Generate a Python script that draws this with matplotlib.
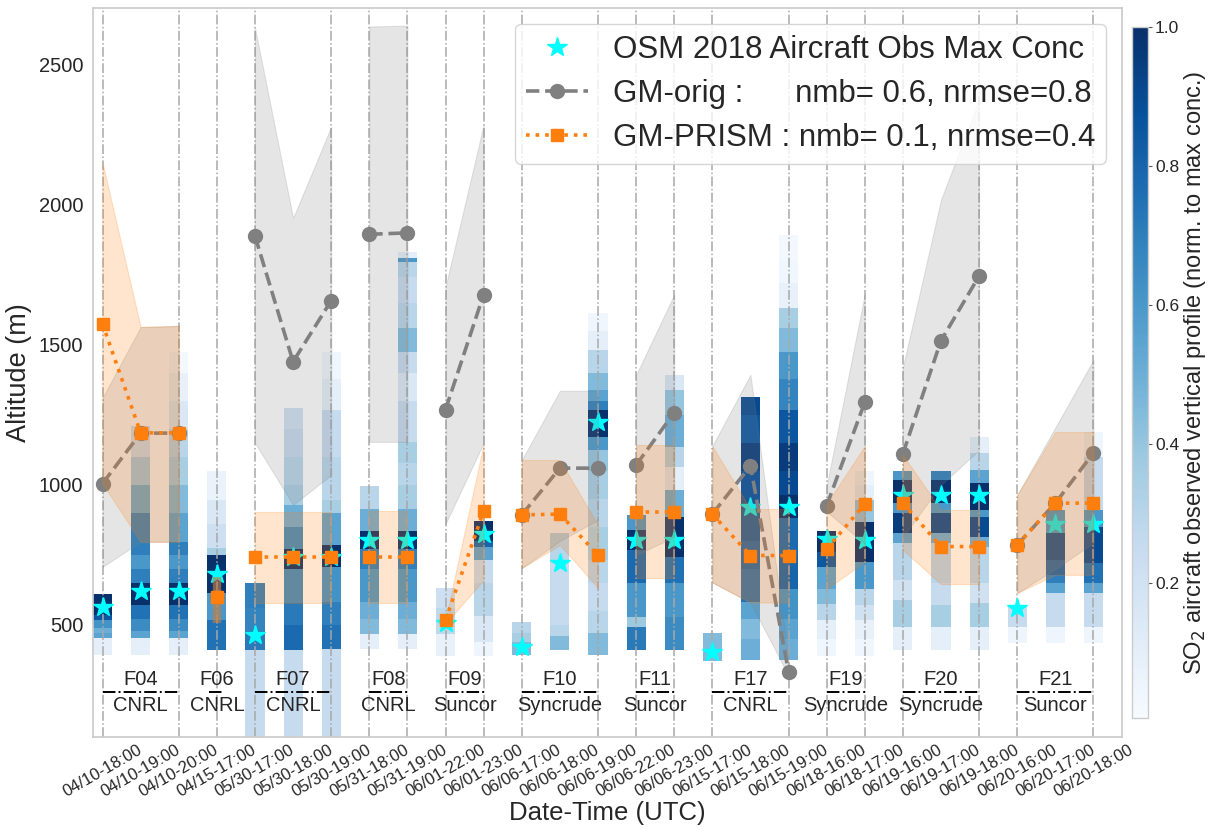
import numpy as np
import matplotlib
matplotlib.use("Agg")
import matplotlib.pyplot as plt
from matplotlib.lines import Line2D
from matplotlib.colors import Normalize
from matplotlib.cm import ScalarMappable

plt.rcParams['font.family'] = ['Liberation Sans', 'DejaVu Sans']
plt.rcParams['text.color'] = '#262626'
plt.rcParams['axes.labelcolor'] = '#262626'
plt.rcParams['xtick.color'] = '#262626'
plt.rcParams['ytick.color'] = '#262626'

# ---------------- data ----------------
time_labels = ['04/10-18:00', '04/10-19:00', '04/10-20:00', '04/15-17:00', '05/30-17:00',
               '05/30-18:00', '05/30-19:00', '05/31-18:00', '05/31-19:00', '06/01-22:00',
               '06/01-23:00', '06/06-17:00', '06/06-18:00', '06/06-19:00', '06/06-22:00',
               '06/06-23:00', '06/15-17:00', '06/15-18:00', '06/15-19:00', '06/18-16:00',
               '06/18-17:00', '06/19-16:00', '06/19-17:00', '06/19-18:00', '06/20-16:00',
               '06/20-17:00', '06/20-18:00']

flight_names = ['F04', 'F06', 'F07', 'F08', 'F09', 'F10', 'F11', 'F17', 'F19', 'F20', 'F21']
flight_ops = ['CNRL', 'CNRL', 'CNRL', 'CNRL', 'Suncor', 'Syncrude', 'Suncor', 'CNRL',
              'Syncrude', 'Syncrude', 'Suncor']
flight_start = [0, 3, 4, 7, 9, 11, 14, 16, 19, 21, 24]
flight_end = [2, 3, 6, 8, 10, 13, 15, 18, 20, 23, 26]

obs_max = [565, 622, 622, 682, 464, 742, 742, 803, 803, 508, 825, 423, 722, 1223, 803, 803,
           405, 923, 923, 807, 803, 964, 964, 964, 562, 861, 861]

gm_orig = [1005, 1185, 1185, 600, 1889, 1440, 1658, 1895, 1900, 1269, 1680, 893, 1060, 1060,
           1071, 1258, 896, 1068, 333, 926, 1295, 1111, 1515, 1746, 786, 935, 1114]
gm_orig_lo = [708, 797, 797, 507, 1150, 929, 1036, 1154, 1154, 861, 1150, 703, 800, 875,
              750, 814, 652, 580, 320, 905, 790, 814, 1000, 1125, 614, 700, 793]
gm_orig_hi = [1311, 1564, 1568, 671, 2632, 1953, 2279, 2637, 2640, 1707, 2286, 1089, 1336, 1336,
              1393, 1679, 1139, 1393, 380, 996, 1680, 1420, 2018, 2375, 964, 1205, 1446]

gm_prism = [1575, 1186, 1186, 601, 742, 742, 742, 743, 743, 518, 907, 893, 896, 750, 905, 905,
            896, 748, 748, 771, 932, 935, 780, 780, 786, 935, 935]
gm_prism_lo = [1005, 797, 797, 507, 578, 578, 578, 578, 578, 505, 661, 703, 786, 632, 668, 668,
               652, 580, 580, 629, 725, 768, 646, 646, 614, 679, 679]
gm_prism_hi = [2150, 1564, 1568, 671, 905, 905, 905, 907, 907, 520, 1146, 1089, 1089, 857, 1143,
               1143, 1139, 914, 914, 932, 1139, 1107, 911, 911, 964, 1189, 1189]

# observed SO2 vertical profiles (bin edges in m, normalized concentration per bin)
prof_z = [
    [393, 454, 470, 490, 518, 536, 611],
    [393, 454, 480, 520, 571, 650, 700, 750, 796, 900, 1000, 1100, 1211],
    [393, 454, 480, 520, 571, 650, 700, 750, 796, 900, 1000, 1100, 1200, 1300, 1400, 1475],
    [411, 518, 614, 750, 775, 860, 946, 1050],
    [100, 411, 480, 560, 650],
    [100, 411, 500, 580, 700, 770, 850, 930, 1000, 1100, 1200, 1275],
    [100, 414, 500, 582, 707, 786, 900, 946, 1100, 1266, 1380, 1473],
    [414, 468, 520, 582, 700, 770, 836, 914, 996],
    [414, 468, 520, 582, 700, 770, 836, 914, 1000, 1080, 1154, 1300, 1400, 1475, 1560, 1650,
     1743, 1795, 1810, 1832],
    [389, 468, 560, 632],
    [389, 440, 532, 650, 732, 780, 800, 871],
    [393, 440, 470, 511],
    [411, 460, 500, 560, 650, 720, 829],
    [393, 470, 550, 650, 732, 850, 950, 1050, 1125, 1171, 1268, 1300, 1339, 1400, 1482, 1550, 1614],
    [411, 494, 530, 649, 768, 839, 893],
    [411, 530, 649, 744, 887, 982, 1065, 1137, 1250, 1339, 1393],
    [373, 471],
    [375, 450, 520, 582, 700, 800, 914, 946, 1050, 1150, 1250, 1314],
    [375, 450, 520, 629, 750, 882, 964, 1050, 1150, 1268, 1380, 1475, 1560, 1632, 1720, 1800, 1893],
    [389, 450, 518, 575, 629, 707, 760, 836],
    [389, 450, 518, 570, 629, 725, 868, 946, 1000, 1050],
    [411, 494, 589, 661, 792, 827, 899, 935, 1018, 1051],
    [411, 494, 570, 650, 792, 827, 899, 935, 1018, 1051],
    [411, 494, 577, 649, 780, 815, 887, 911, 1006, 1054, 1113, 1170],
    [436, 493, 571],
    [435, 494, 613, 649, 679, 732, 827, 911],
    [435, 494, 613, 649, 720, 851, 911, 1101, 1190],
]
prof_c = [
    [0.1, 0.55, 0.5, 0.62, 0.85, 1.0],
    [0.1, 0.55, 0.65, 0.75, 1.0, 0.7, 0.6, 0.7, 0.7, 0.5, 0.35, 0.2],
    [0.1, 0.55, 0.65, 0.75, 1.0, 0.7, 0.6, 0.7, 0.55, 0.45, 0.35, 0.3, 0.15, 0.08, 0.03],
    [0.75, 0.6, 1.0, 0.35, 0.22, 0.15, 0.07],
    [0.25, 0.72, 0.68, 0.7],
    [0.25, 0.78, 0.72, 0.65, 1.0, 0.65, 0.5, 0.35, 0.3, 0.25, 0.2],
    [0.25, 0.75, 0.7, 0.62, 1.0, 0.55, 0.35, 0.3, 0.25, 0.1, 0.04],
    [0.1, 0.45, 0.5, 0.6, 0.7, 1.0, 0.5, 0.3],
    [0.1, 0.45, 0.5, 0.6, 0.7, 1.0, 0.5, 0.35, 0.3, 0.35, 0.25, 0.15, 0.25, 0.45, 0.3, 0.25,
     0.3, 0.6, 0.1],
    [0.08, 0.28, 0.22],
    [0.05, 0.15, 0.3, 0.25, 0.55, 0.8, 1.0],
    [0.45, 0.35, 0.3],
    [0.45, 0.3, 0.25, 0.25, 0.25, 0.3],
    [0.45, 0.3, 0.25, 0.3, 0.35, 0.3, 0.35, 0.4, 0.6, 1.0, 0.7, 0.55, 0.45, 0.3, 0.1, 0.04],
    [0.72, 0.38, 0.6, 0.78, 1.0, 0.6],
    [0.65, 0.6, 0.75, 1.0, 0.5, 0.1, 0.3, 0.5, 0.4, 0.15],
    [0.45],
    [0.5, 0.45, 0.55, 0.75, 0.8, 0.85, 0.9, 0.88, 0.95, 0.85, 0.9],
    [0.5, 0.55, 0.62, 0.8, 0.78, 1.0, 0.9, 0.95, 0.85, 0.68, 0.6, 0.45, 0.35, 0.08, 0.04, 0.03],
    [0.04, 0.1, 0.3, 0.45, 0.55, 0.85, 1.0],
    [0.04, 0.08, 0.2, 0.3, 0.6, 1.0, 0.4, 0.1, 0.05],
    [0.1, 0.35, 0.2, 0.3, 0.55, 0.95, 0.6, 1.0, 0.6],
    [0.1, 0.35, 0.25, 0.3, 0.5, 0.9, 0.6, 1.0, 0.7],
    [0.1, 0.35, 0.2, 0.3, 0.5, 0.9, 0.6, 1.0, 0.55, 0.3, 0.1],
    [0.05, 0.25],
    [0.05, 0.25, 0.55, 0.7, 0.8, 0.9, 0.6],
    [0.05, 0.25, 0.55, 0.75, 0.9, 0.6, 0.25, 0.05],
]

legend_labels = ['OSM 2018 Aircraft Obs Max Conc',
                 'GM-orig :      nmb= 0.6, nrmse=0.8',
                 'GM-PRISM : nmb= 0.1, nrmse=0.4']

# ---------------- figure ----------------
W, H = 1210, 830
fig = plt.figure(figsize=(W / 100, H / 100), dpi=100)
ax = fig.add_axes([93 / W, 1 - 737 / H, (1122 - 93) / W, (737 - 8) / H])
cax = fig.add_axes([1132 / W, 1 - 718 / H, 16 / W, (718 - 27) / H])

cmap = plt.get_cmap('Blues')
norm = Normalize(vmin=0.005, vmax=1.0)

x = np.arange(len(time_labels))

# profiles
for i in range(len(prof_z)):
    z = np.array(prof_z[i], dtype=float)
    c = np.array(prof_c[i], dtype=float)[:, None]
    ax.pcolormesh([i - 0.25, i + 0.25], z, c, cmap=cmap, norm=norm, shading='flat',
                  zorder=1, edgecolors='none')

# vertical flight boundary lines
for s, e in zip(flight_start, flight_end):
    for xv in sorted(set([s, e])):
        ax.axvline(xv, color='#a8a8a8', ls='-.', lw=1.1, zorder=1.5)

# stars
ax.plot(x, obs_max, ls='none', marker='*', color='cyan', ms=15, zorder=2)

orange = '#ff7f0e'
for s, e in zip(flight_start, flight_end):
    xs = x[s:e + 1]
    go = gm_orig[s:e + 1]
    gp = gm_prism[s:e + 1]
    if e > s:
        ax.fill_between(xs, gm_orig_lo[s:e + 1], gm_orig_hi[s:e + 1], color='gray',
                        alpha=0.2, lw=0.8, zorder=3)
    else:
        ax.plot([xs[0], xs[0]], [gm_orig_lo[s], gm_orig_hi[s]], color='gray', alpha=0.45,
                lw=6, solid_capstyle='butt', zorder=3)
    ax.plot(xs, go, ls='--', color='gray', marker='o', ms=10, lw=2.6, zorder=4)
    if e > s:
        ax.fill_between(xs, gm_prism_lo[s:e + 1], gm_prism_hi[s:e + 1], color=orange,
                        alpha=0.2, lw=0.8, zorder=5)
    else:
        ax.plot([xs[0], xs[0]], [gm_prism_lo[s], gm_prism_hi[s]], color=orange, alpha=0.35,
                lw=6, solid_capstyle='butt', zorder=5)
    ax.plot(xs, gp, ls=':', color=orange, marker='s', ms=9, lw=2.6, zorder=6)

# flight annotations
for name, op, s, e in zip(flight_names, flight_ops, flight_start, flight_end):
    mid = (s + e) / 2
    x0, x1 = (s, e) if e > s else (s - 0.2, e + 0.2)
    ax.plot([x0, x1], [261, 261], color='black', ls='-.', lw=1.4, zorder=7)
    ax.text(mid, 305, name, ha='center', va='center', fontsize=14.5, zorder=7)
    ax.text(mid, 214, op, ha='center', va='center', fontsize=14.5, zorder=7)

ax.set_xlim(-0.25, 26.75)
ax.set_ylim(100, 2703)
ax.set_xticks(x)
ax.set_xticklabels(time_labels, rotation=30, fontsize=12)
ax.set_yticks([500, 1000, 1500, 2000, 2500])
ax.tick_params(axis='y', labelsize=14.5, length=0, pad=7)
ax.tick_params(axis='x', length=0, pad=4)
ax.set_xlabel('Date-Time (UTC)', fontsize=18.5, labelpad=1)
ax.set_ylabel('Altitude (m)', fontsize=19.5, labelpad=5)
for sp in ax.spines.values():
    sp.set_color('#cccccc')
    sp.set_linewidth(1.25)
ax.grid(False)

handles = [
    Line2D([], [], ls='none', marker='*', color='cyan', ms=15),
    Line2D([], [], ls='--', color='gray', marker='o', ms=10, lw=2.6),
    Line2D([], [], ls=':', color=orange, marker='s', ms=9, lw=2.6),
]
leg = ax.legend(handles, legend_labels, loc='upper right', fontsize=22.5, framealpha=0.8,
                edgecolor='#cccccc', fancybox=True, borderaxespad=0.5, labelspacing=0.45,
                handletextpad=0.8, borderpad=0.35)
leg.set_zorder(10)

cb = fig.colorbar(ScalarMappable(norm=norm, cmap=cmap), cax=cax)
cb.set_ticks([0.2, 0.4, 0.6, 0.8, 1.0])
cb.ax.tick_params(labelsize=12.5, length=3, width=0.8, color='#555555', pad=2)
cb.outline.set_edgecolor('#cccccc')
cb.outline.set_linewidth(1.0)
cb.set_label('SO$_2$ aircraft observed vertical profile (norm. to max conc.)', fontsize=17,
             labelpad=2)

fig.savefig('out.png', dpi=100)
